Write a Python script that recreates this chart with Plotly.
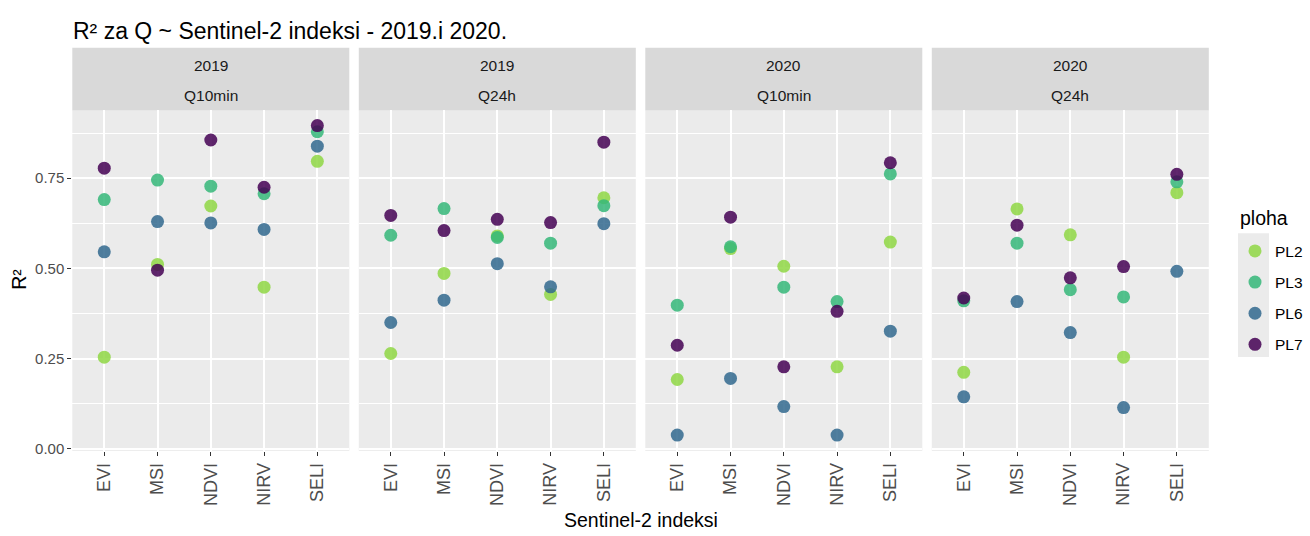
import plotly.graph_objects as go
from plotly.subplots import make_subplots

# Data
godina = ["2019", "2019", "2020", "2020"]
protok = ["Q10min", "Q24h", "Q10min", "Q24h"]
indeksi = ["EVI", "MSI", "NDVI", "NIRV", "SELI"]
plohe = ["PL2", "PL3", "PL6", "PL7"]

r2_pl2 = [[0.254, 0.511, 0.673, 0.448, 0.797],
          [0.264, 0.486, 0.590, 0.428, 0.696],
          [0.192, 0.555, 0.506, 0.227, 0.573],
          [0.212, 0.665, 0.593, 0.254, 0.710]]
r2_pl3 = [[0.691, 0.745, 0.728, 0.707, 0.879],
          [0.592, 0.666, 0.586, 0.570, 0.674],
          [0.398, 0.560, 0.448, 0.408, 0.762],
          [0.410, 0.570, 0.441, 0.421, 0.740]]
r2_pl6 = [[0.546, 0.630, 0.626, 0.608, 0.839],
          [0.350, 0.412, 0.513, 0.449, 0.624],
          [0.038, 0.195, 0.117, 0.038, 0.326],
          [0.144, 0.408, 0.322, 0.114, 0.492]]
r2_pl7 = [[0.778, 0.495, 0.856, 0.725, 0.896],
          [0.647, 0.605, 0.636, 0.627, 0.850],
          [0.287, 0.642, 0.227, 0.381, 0.793],
          [0.418, 0.620, 0.474, 0.505, 0.761]]

r2 = {"PL2": r2_pl2, "PL3": r2_pl3, "PL6": r2_pl6, "PL7": r2_pl7}
boje = {"PL2": "#8FD744", "PL3": "#35B779", "PL6": "#31688E", "PL7": "#440154"}

W, H = 1310, 536
FONT = "Liberation Sans, Arial, sans-serif"


def px_x(v):
    return v / W


def px_y(v):
    return 1 - v / H


fig = make_subplots(rows=1, cols=4, shared_yaxes=True)

for i in range(4):
    for p in plohe:
        fig.add_trace(go.Scatter(
            x=indeksi, y=r2[p][i], mode="markers", name=p,
            legendgroup=p, showlegend=(i == 0),
            marker=dict(size=13, color=boje[p], opacity=0.85, line=dict(width=0)),
        ), row=1, col=i + 1)

# panel geometry (pixels)
pan_w, gap, left = 277.0, 9.5, 72.3
pan_top, pan_bot, strip_top = 111.7, 456.0, 48.3

shapes = []
annotations = []
for i in range(4):
    x0 = left + i * (pan_w + gap)
    x1 = x0 + pan_w
    xa = "xaxis" if i == 0 else f"xaxis{i + 1}"
    fig.layout[xa].update(
        domain=[px_x(x0), px_x(x1)], type="category", categoryarray=indeksi,
        range=[-0.6, 4.6], showgrid=True, gridcolor="white", gridwidth=1.5,
        zeroline=False, ticks="outside", ticklen=4, tickwidth=1.2,
        tickcolor="#333333", tickangle=-90,
        tickfont=dict(family=FONT, size=18, color="#4D4D4D"),
    )
    shapes.append(dict(type="rect", xref="paper", yref="paper",
                       x0=px_x(x0), x1=px_x(x1), y0=px_y(pan_top), y1=px_y(strip_top),
                       fillcolor="#D9D9D9", line=dict(width=0), layer="below"))
    xc = px_x((x0 + x1) / 2)
    annotations.append(dict(text=godina[i], x=xc, y=px_y(66.5), xref="paper", yref="paper",
                            xanchor="center", yanchor="middle", showarrow=False,
                            font=dict(family=FONT, size=15.5, color="#1A1A1A")))
    annotations.append(dict(text=protok[i], x=xc, y=px_y(97), xref="paper", yref="paper",
                            xanchor="center", yanchor="middle", showarrow=False,
                            font=dict(family=FONT, size=15.5, color="#1A1A1A")))

fig.update_yaxes(
    domain=[px_y(pan_bot), px_y(pan_top)], range=[-0.006, 0.938],
    tickvals=[0, 0.25, 0.5, 0.75], ticktext=["0.00", "0.25", "0.50", "0.75"],
    showgrid=True, gridcolor="white", gridwidth=1.5, zeroline=False,
    minor=dict(tickvals=[0.125, 0.375, 0.625, 0.875], showgrid=True,
               gridcolor="white", gridwidth=0.8, ticks=""),
    ticks="outside", ticklen=4, tickwidth=1.2, tickcolor="#333333",
    tickfont=dict(family=FONT, size=15, color="#4D4D4D"),
)
for i in range(2, 5):
    fig.layout[f"yaxis{i}"].update(ticks="", showticklabels=False)

# legend key background
shapes.append(dict(type="rect", xref="paper", yref="paper",
                   x0=px_x(1238), x1=px_x(1269), y0=px_y(361), y1=px_y(236),
                   fillcolor="#EBEBEB", line=dict(width=0), layer="below"))

annotations.append(dict(text="ploha", x=px_x(1238), y=px_y(220), xref="paper", yref="paper",
                        xanchor="left", yanchor="middle", showarrow=False,
                        font=dict(family=FONT, size=19.5, color="black")))
annotations.append(dict(text="R²", x=px_x(19), y=px_y(283), xref="paper", yref="paper",
                        xanchor="center", yanchor="middle", textangle=-90, showarrow=False,
                        font=dict(family=FONT, size=19.5, color="black")))
annotations.append(dict(text="Sentinel-2 indeksi", x=px_x(640.7), y=px_y(526),
                        xref="paper", yref="paper", showarrow=False,
                        xanchor="center", yanchor="middle",
                        font=dict(family=FONT, size=19.5, color="black")))

fig.update_layout(
    width=W, height=H,
    margin=dict(l=0, r=0, t=0, b=0),
    paper_bgcolor="white", plot_bgcolor="#EBEBEB",
    title=dict(text="R² za Q ~ Sentinel-2 indeksi - 2019.i 2020.",
               x=px_x(73), xanchor="left", xref="paper",
               y=px_y(31), yanchor="middle", yref="paper",
               font=dict(family=FONT, size=23, color="black")),
    legend=dict(x=px_x(1235), xanchor="left", y=px_y(237), yanchor="top",
                font=dict(family=FONT, size=15.5, color="black"),
                bgcolor="rgba(0,0,0,0)", traceorder="grouped", tracegroupgap=8,
                itemwidth=30),
    shapes=shapes,
    annotations=annotations,
)

fig.write_html("out.html", config={"displayModeBar": False},
               post_script="document.body.style.margin='0';")
